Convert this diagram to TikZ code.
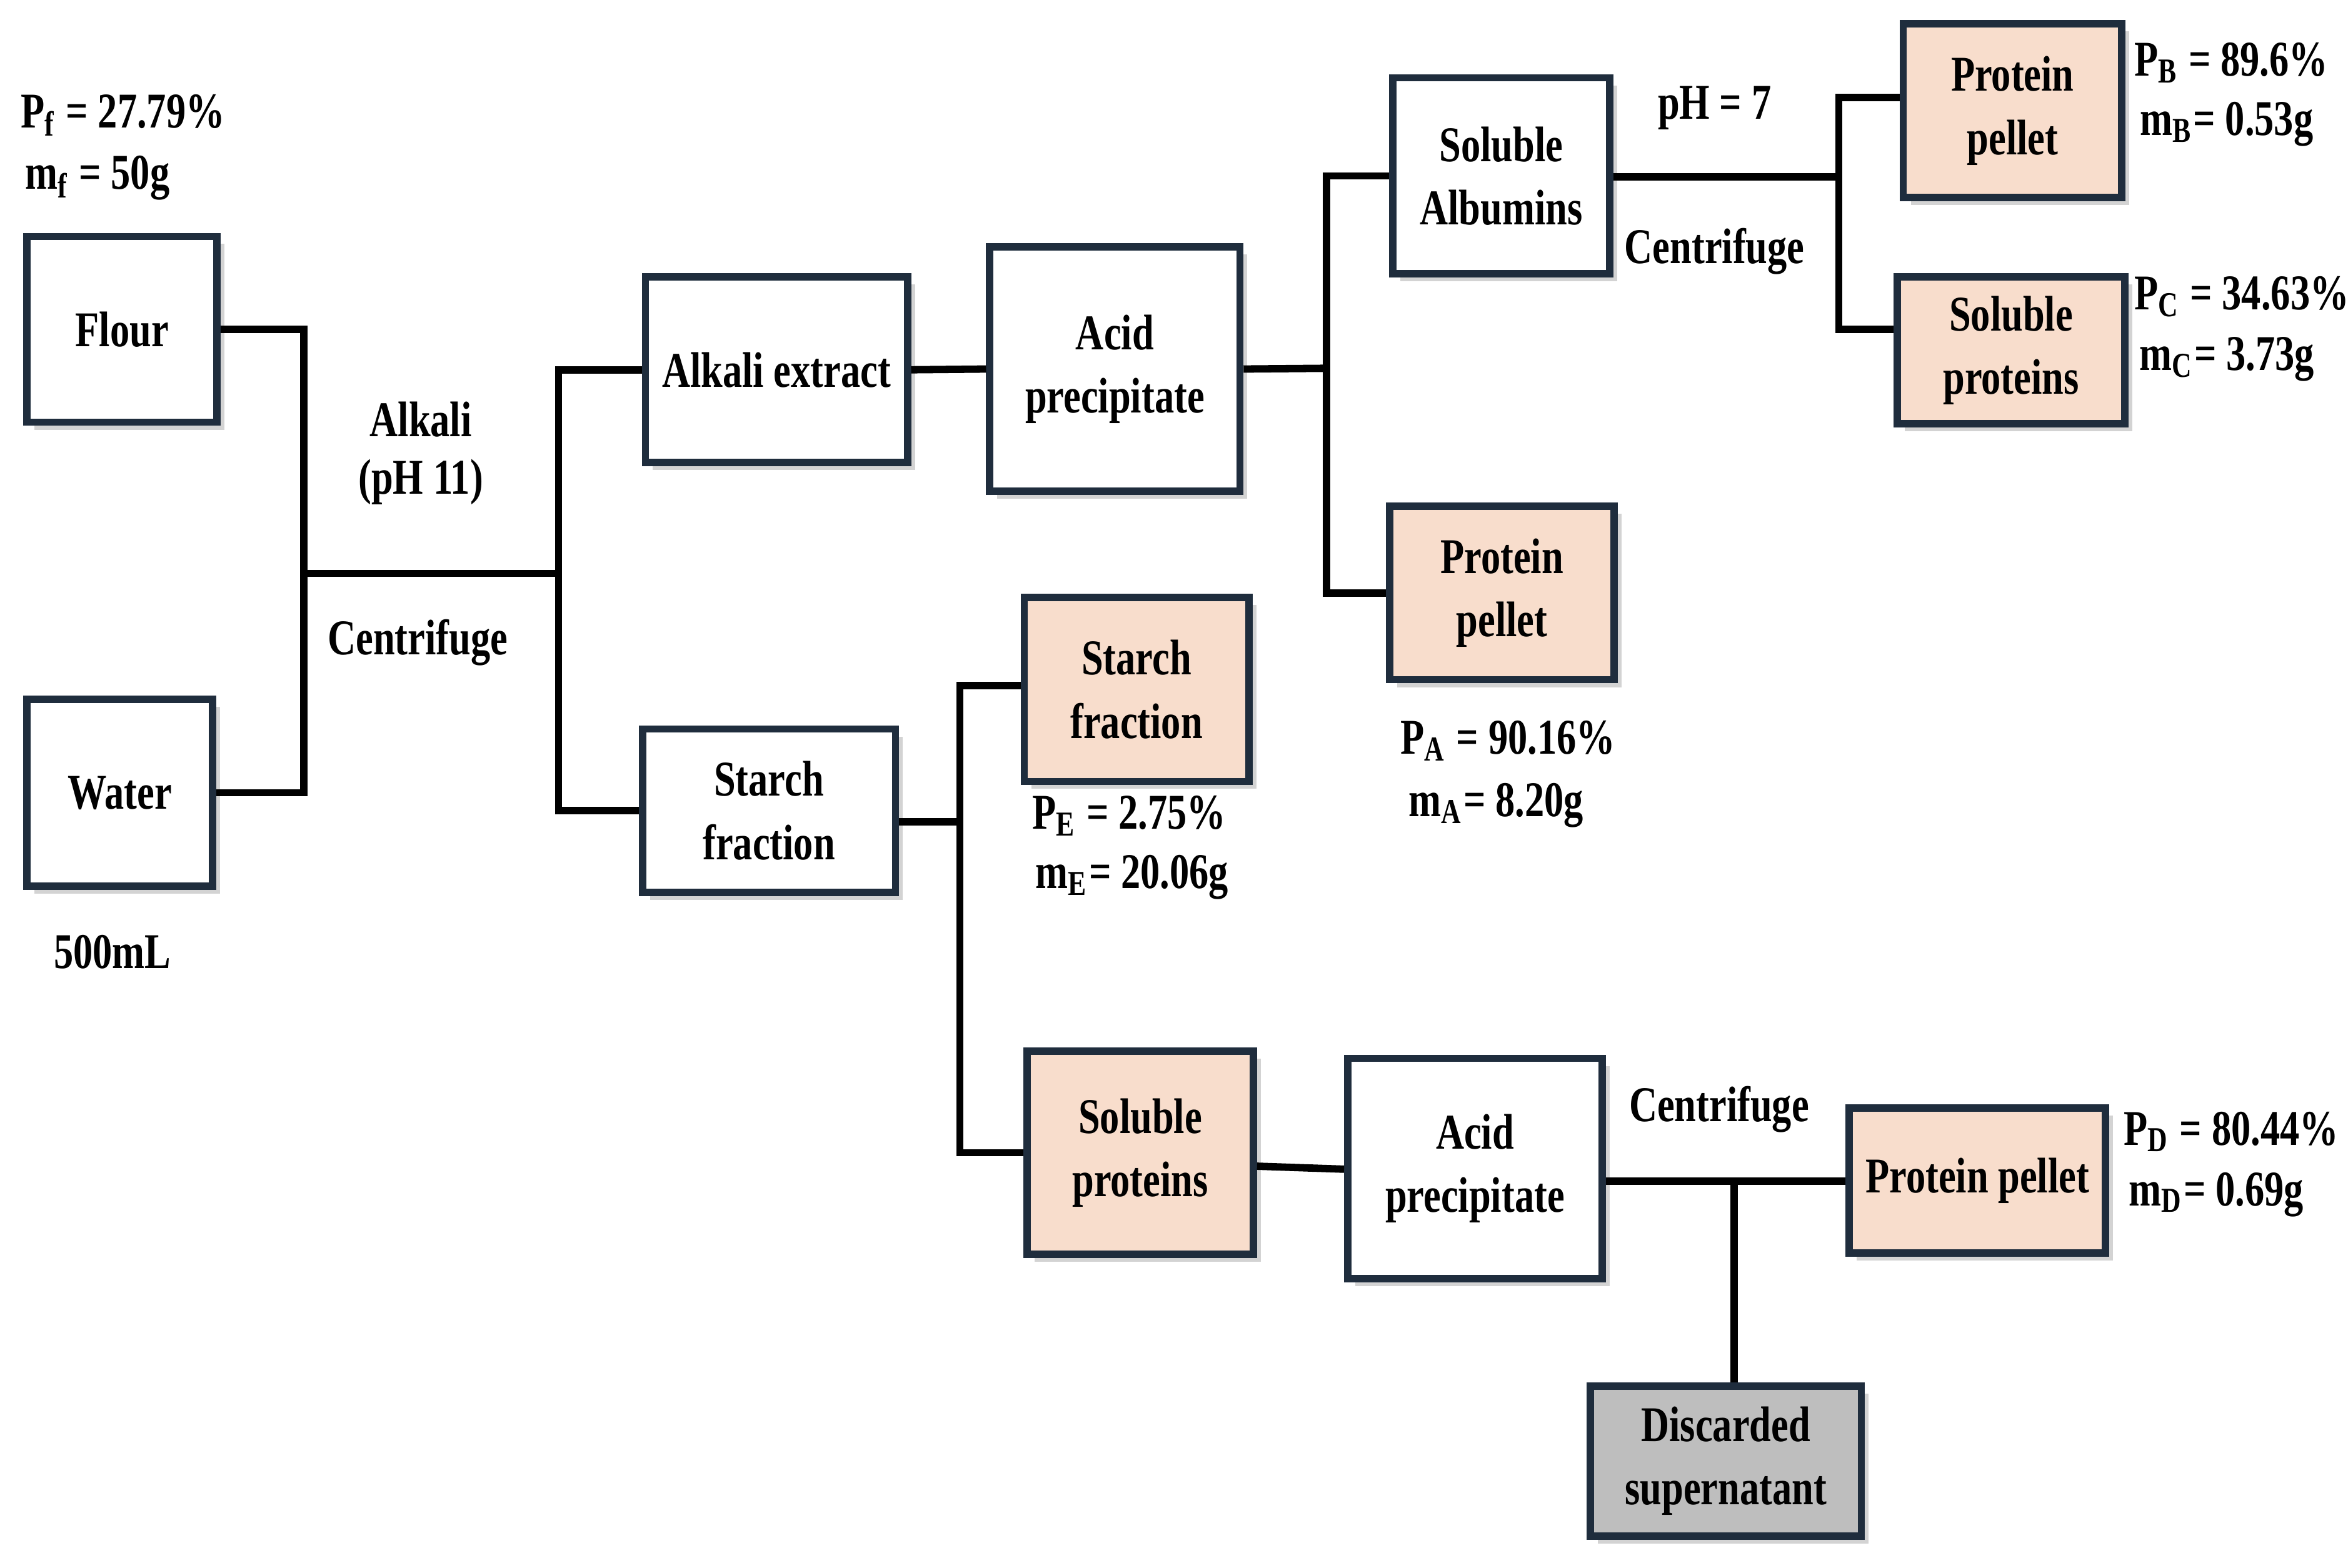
\documentclass[tikz,border=0pt]{standalone}
\usepackage{fontspec}
\setmainfont{Liberation Serif}[FakeStretch=0.78]
\usetikzlibrary{shadows}
\definecolor{edge}{HTML}{1F2D3D}
\definecolor{peach}{HTML}{F8DDCC}
\definecolor{grayb}{HTML}{BEBEBE}
\tikzset{
  box/.style={draw=edge,line width=1.4pt,fill=white,align=center,inner sep=0pt,
    drop shadow={shadow xshift=0.05cm,shadow yshift=-0.05cm,opacity=0.35},
    font=\fontsize{9.5}{12}\selectfont\bfseries},
  pk/.style={fill=peach},
  gr/.style={fill=grayb},
  lbl/.style={font=\fontsize{9.5}{11}\selectfont\bfseries,inner sep=0pt},
  ln/.style={line width=1.4pt,draw=black}
}
\newcommand{\bx}[7]{\node[box,#6,minimum width={(#4-#2)*0.01cm},minimum height={(#5-#3)*0.01cm}] (#1) at ({(#2+#4)/2},{(#3+#5)/2}) {#7};}
\newcommand{\sbs}[1]{\textsubscript{#1}}
\begin{document}
\begin{tikzpicture}[x=0.01cm,y=-0.01cm]
\useasboundingbox (0,0) rectangle (1568,1047);
\bx{flour}{18}{158}{145}{282}{}{Flour}
\bx{water}{18}{467}{142}{592}{}{Water}
\bx{alk}{431}{185}{606}{309}{}{Alkali extract}
\bx{acid}{661}{165}{828}{328}{}{Acid\\precipitate}
\bx{alb}{930}{52}{1075}{183}{}{Soluble\\Albumins}
\bx{ppB}{1271}{16}{1417}{132}{pk}{Protein\\pellet}
\bx{spC}{1267}{185}{1419}{283}{pk}{Soluble\\proteins}
\bx{ppA}{928}{338}{1078}{454}{pk}{Protein\\pellet}
\bx{sf}{429}{487}{598}{596}{}{Starch\\fraction}
\bx{sfE}{684}{399}{834}{522}{pk}{Starch\\fraction}
\bx{sp}{686}{702}{837}{838}{pk}{Soluble\\proteins}
\bx{acid2}{900}{707}{1070}{854}{}{Acid\\precipitate}
\bx{ppD}{1235}{740}{1406}{837}{pk}{Protein pellet}
\bx{disc}{1062}{926}{1243}{1026}{gr}{Discarded\\supernatant}
% connectors
\coordinate (j1) at (203,383);
\coordinate (j2) at (373,383);
\draw[ln] (flour.east) -| (j1) |- (water.east);
\draw[ln] (j1) -- (j2);
\draw[ln] (alk.west) -| (j2) |- (sf.west);
\draw[ln] (alk.east) -- (acid.west);
\coordinate (j3) at (886,246);
\draw[ln] (acid.east) -- (j3);
\draw[ln] (alb.west) -| (j3) |- (ppA.west);
\coordinate (j4) at (1228,118);
\draw[ln] (alb.east |- j4) -- (j4);
\draw[ln] (ppB.west |- 0,65) -| (j4) |- (spC.west |- 0,220);
\coordinate (j5) at (641,549);
\draw[ln] (sf.east |- j5) -- (j5);
\draw[ln] (sfE.west |- 0,458) -| (j5) |- (sp.west |- 0,770);
\draw[ln] (sp.east |- 0,779) -- (acid2.west |- 0,781);
\coordinate (j6) at (1158,789);
\draw[ln] (acid2.east |- j6) -- (ppD.west |- j6);
\draw[ln] (j6) -- (j6 |- disc.north);
% labels
\node[lbl] at (82,77) {P\sbs{f} = 27.79\%};
\node[lbl] at (65,119) {m\sbs{f} = 50g};
\node[lbl] at (281,280) {Alkali};
\node[lbl] at (281,322) {(pH 11)};
\node[lbl] at (279,429) {Centrifuge};
\node[lbl] at (75,636) {500mL};
\node[lbl] at (1145,72) {pH = 7};
\node[lbl] at (1145,168) {Centrifuge};
\node[lbl] at (1490,42) {P\sbs{B} = 89.6\%};
\node[lbl] at (1487,83) {m\sbs{B}= 0.53g};
\node[lbl] at (1497,198) {P\sbs{C} = 34.63\%};
\node[lbl] at (1487,240) {m\sbs{C}= 3.73g};
\node[lbl] at (1007,495) {P\sbs{A} = 90.16\%};
\node[lbl] at (999,538) {m\sbs{A}= 8.20g};
\node[lbl] at (754,545) {P\sbs{E} = 2.75\%};
\node[lbl] at (756,586) {m\sbs{E}= 20.06g};
\node[lbl] at (1148,741) {Centrifuge};
\node[lbl] at (1490,756) {P\sbs{D} = 80.44\%};
\node[lbl] at (1480,798) {m\sbs{D}= 0.69g};
\end{tikzpicture}
\end{document}
